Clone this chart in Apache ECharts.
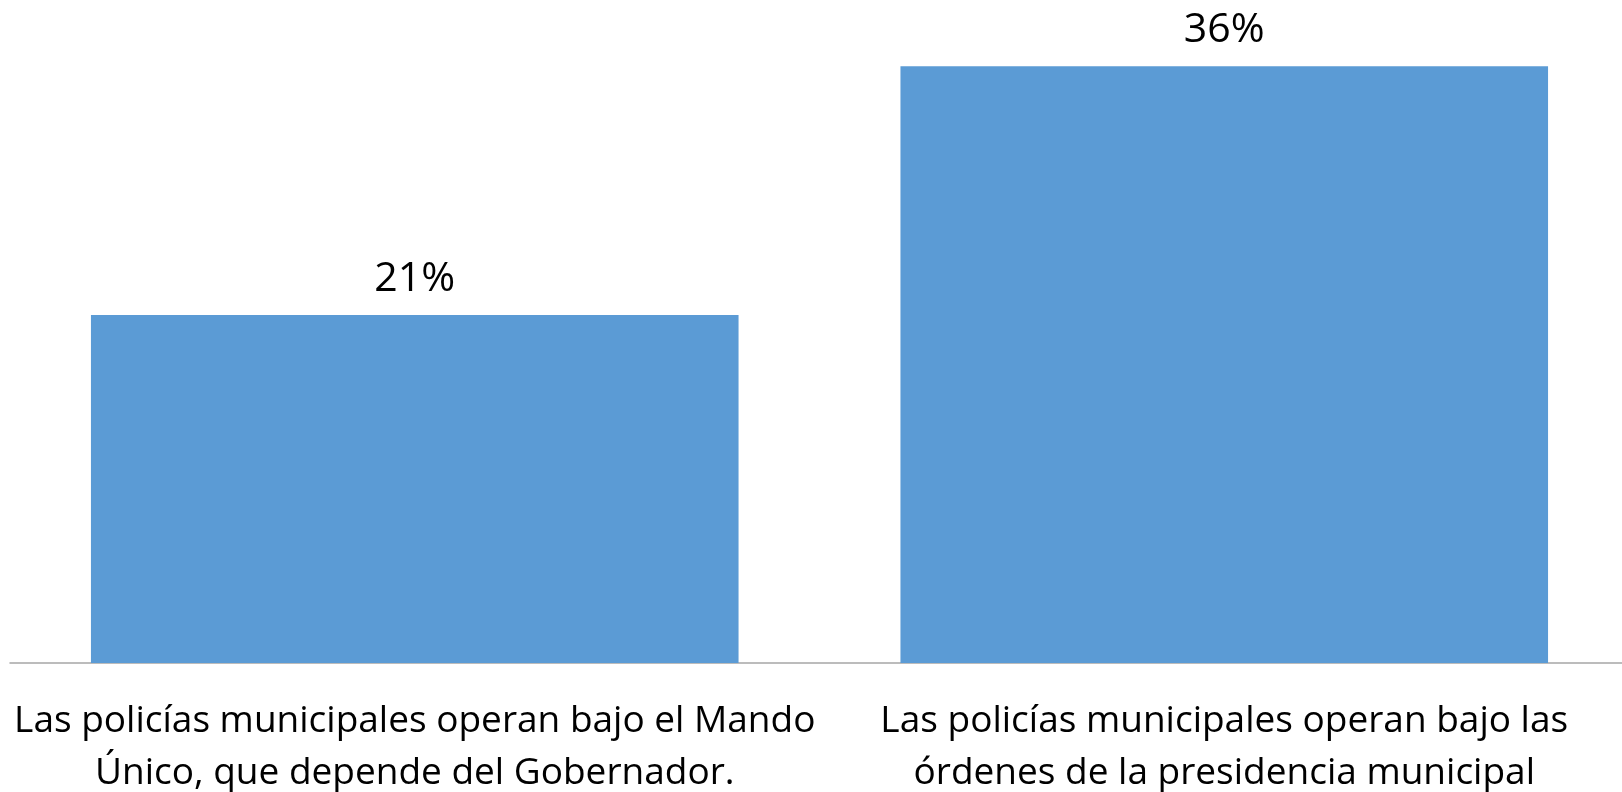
<!DOCTYPE html>
<html>
<head>
<meta charset="utf-8">
<script src="https://cdn.jsdelivr.net/npm/echarts@6/dist/echarts.min.js"></script>
<style>
  html, body { margin: 0; padding: 0; background: #fff; }
  #chart { width: 1622px; height: 792px; }
</style>
</head>
<body>
<div id="chart"></div>
<script>
// categorias (eje x) y valores en %
const categorias = [
  'Las policías municipales operan bajo el Mando\nÚnico, que depende del Gobernador.',
  'Las policías municipales operan bajo las\nórdenes de la presidencia municipal'
]
const valores = [21, 36]

let myChart = echarts.init(document.getElementById('chart'))
let options = {
  animation: false,
  grid: {
    left: 10,
    right: -7,
    top: 0,
    bottom: 129,
    containLabel: false,
    outerBoundsMode: 'none'
  },
  xAxis: {
    type: 'category',
    data: categorias,
    axisLine: { lineStyle: { color: '#A6A6A6', width: 1.5 } },
    axisTick: { show: false },
    axisLabel: {
      interval: 0,
      margin: 32,
      color: '#000',
      fontFamily: 'Open Sans',
      fontSize: 37,
      lineHeight: 52
    }
  },
  yAxis: {
    type: 'value',
    min: 0,
    max: 40,
    show: false,
    splitLine: { show: false }
  },
  series: [
    {
      type: 'bar',
      data: valores,
      barCategoryGap: '20%',
      itemStyle: { color: '#5B9BD5' },
      label: {
        show: true,
        position: 'top',
        distance: 15,
        color: '#000',
        fontFamily: 'Open Sans',
        fontSize: 41,
        formatter: '{c}%'
      }
    }
  ]
}
myChart.setOption(options)
</script>
</body>
</html>
